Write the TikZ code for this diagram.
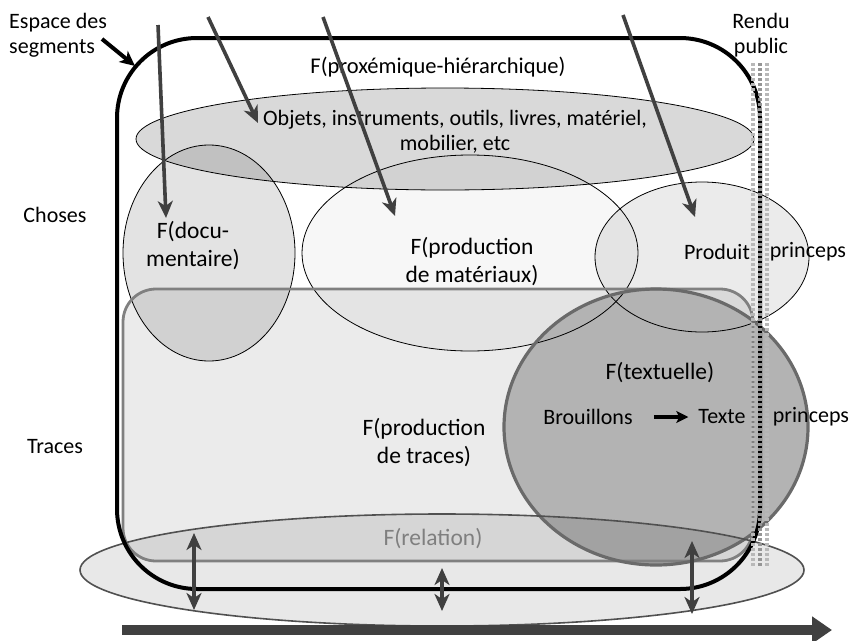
\documentclass[tikz,border=0pt]{standalone}
\usepackage{fontspec}
\setmainfont{Carlito}
\usetikzlibrary{arrows.meta}
\definecolor{objfill}{HTML}{D9D9D9}
\definecolor{txtfill}{HTML}{B3B3B3}
\definecolor{arrgray}{HTML}{404040}
\definecolor{rectgray}{HTML}{808080}
\definecolor{circgray}{HTML}{6A6A6A}
\definecolor{relgray}{HTML}{505050}
\definecolor{bandgray}{HTML}{B8B8B8}
\definecolor{bandmid}{HTML}{959595}
\definecolor{reltext}{HTML}{7F7F7F}
\tikzset{
  smalltext/.style={font=\fontsize{22}{25}\selectfont, inner sep=0pt, align=center},
  bigtext/.style={font=\fontsize{23.5}{28}\selectfont, inner sep=0pt, align=center},
  thinline/.style={draw=black, line width=0.8pt},
  downarrow/.style={draw=arrgray, line width=3.6pt, -{Stealth[length=17pt,width=15pt,inset=5pt]}},
  dblarrow/.style={draw=arrgray, line width=3.4pt, {Stealth[length=17pt,width=15pt,inset=5pt]}-{Stealth[length=17pt,width=15pt,inset=5pt]}},
  bandline/.style={draw=bandgray, line width=4.5pt, dash pattern=on 3.3pt off 1.7pt}
}
\begin{document}
\begin{tikzpicture}[x=1pt,y=-1pt]
\useasboundingbox (0,0) rectangle (850,640);
% ---- fills ----
\fill[objfill] (445,139) ellipse [x radius=309, y radius=51];
\fill[black, fill opacity=0.11] (209,253) ellipse [x radius=86, y radius=108];
\fill[black, fill opacity=0.03] (470,253) ellipse [x radius=168, y radius=98];
\fill[black, fill opacity=0.08] (702,257) ellipse [x radius=107, y radius=75];
\fill[black, fill opacity=0.08, rounded corners=33] (123,289) rectangle (753,561);
\fill[txtfill] (656,427) ellipse [x radius=152, y radius=138];
\fill[black, fill opacity=0.09] (442,570) ellipse [x radius=362, y radius=56];
% ---- strokes ----
\draw[thinline] (445,139) ellipse [x radius=309, y radius=51];
\draw[thinline] (209,253) ellipse [x radius=86, y radius=108];
\draw[thinline] (470,253) ellipse [x radius=168, y radius=98];
\draw[thinline] (702,257) ellipse [x radius=107, y radius=75];
\draw[rectgray, line width=2.8pt, rounded corners=33] (123,289) rectangle (753,561);
\draw[circgray, line width=3.2pt] (656,427) ellipse [x radius=152, y radius=138];
\draw[relgray, line width=1.6pt] (442,570) ellipse [x radius=362, y radius=56];
% ---- espace des segments ----
\draw[black, line width=4pt, rounded corners=80] (117,38) rectangle (760,589);
% ---- rendu public band ----
\draw[bandline] (753,63) -- (753,567);
\draw[bandline] (767,63) -- (767,567);
\draw[bandline, draw=bandmid, line width=4pt] (760,63) -- (760,567);
% ---- texts ----
\node[smalltext, anchor=west, align=left] (espace) at (9,35) {Espace des\\segments};
\node[smalltext] (rendu) at (761,35) {Rendu\\public};
\node[smalltext] (choses) at (55,215) {Choses};
\node[smalltext] (traceslab) at (55,447) {Traces};
\node[bigtext, font=\fontsize{22.5}{26}\selectfont] (proxe) at (438,67) {F(proxémique-hiérarchique)};
\node[smalltext] (objets) at (455,132) {Objets, instruments, outils, livres, matériel,\\mobilier, etc};
\node[bigtext] (docu) at (193,246) {F(docu-\\mentaire)};
\node[bigtext] (materiaux) at (472,262) {F(production\\de matériaux)};
\node[smalltext] (produit) at (717,252) {Produit};
\node[smalltext] (princepsA) at (808,252) {princeps};
\node[bigtext] (tracestxt) at (424,443) {F(production\\de traces)};
\node[bigtext] (textuelle) at (660,373) {F(textuelle)};
\node[smalltext] (brouillons) at (588,417) {Brouillons};
\node[smalltext] (texte) at (722,417) {Texte};
\node[smalltext] (princepsB) at (811,417) {princeps};
\node[bigtext, text=reltext] (relation) at (433,539) {F(relation)};
% ---- connectors ----
\coordinate (a1s) at (158,25);  \coordinate (a1e) at (166,218);
\coordinate (a2s) at (208,17);  \coordinate (a2e) at (258,123);
\coordinate (a3s) at (323,17);  \coordinate (a3e) at (395,216);
\coordinate (a4s) at (623,15);  \coordinate (a4e) at (695,217);
\draw[downarrow] (a1s) -- (a1e);
\draw[downarrow] (a2s) -- (a2e);
\draw[downarrow] (a3s) -- (a3e);
\draw[downarrow] (a4s) -- (a4e);
\coordinate (es) at (102,39); \coordinate (ee) at (135,66);
\draw[black, line width=4pt, -{Stealth[length=15pt,width=14pt,inset=4pt]}] (es) -- (ee);
\draw[black, line width=3.5pt, -{Stealth[length=12pt,width=12pt,inset=3pt]}] ([xshift=21pt]brouillons.east) -- ([xshift=-10pt]texte.west);
\coordinate (d1a) at (194,533); \coordinate (d1b) at (194,610);
\coordinate (d2a) at (442,568); \coordinate (d2b) at (442,611);
\coordinate (d3a) at (692,541); \coordinate (d3b) at (692,614);
\draw[dblarrow] (d1a) -- (d1b);
\draw[dblarrow] (d2a) -- (d2b);
\draw[dblarrow] (d3a) -- (d3b);
\coordinate (ts) at (122,630); \coordinate (te) at (832,630);
\draw[arrgray, line width=10pt, -{Triangle[length=20pt,width=26pt]}] (ts) -- (te);
\end{tikzpicture}
\end{document}
